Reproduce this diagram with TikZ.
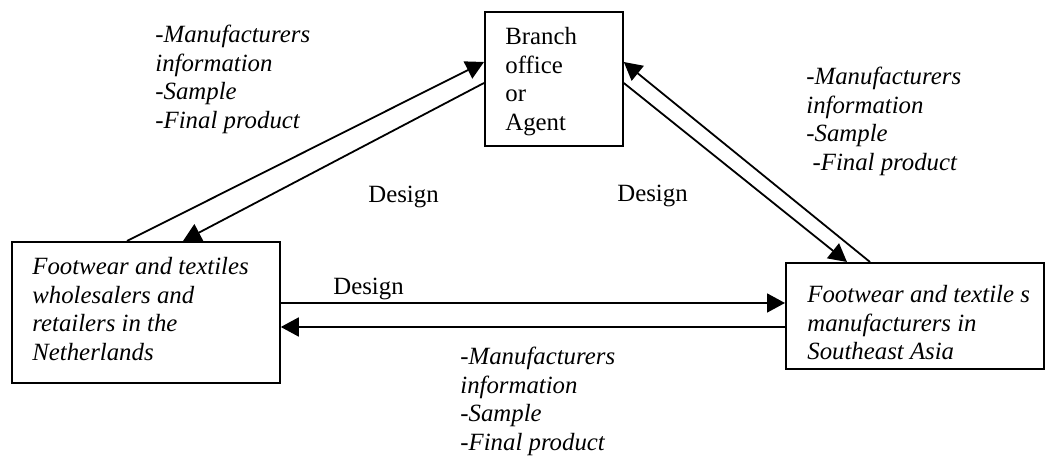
\documentclass[tikz,border=0pt]{standalone}
\usepackage{fontspec}
\setmainfont{Liberation Serif}
\usetikzlibrary{arrows.meta,calc}
\newcommand\stacklines[1]{\begin{tabular}[t]{@{}l@{}}#1\end{tabular}}

\begin{document}
\begin{tikzpicture}[x=0.5pt,y=-0.5pt,
  box/.style={draw, line width=0.9pt, rectangle, inner sep=0pt, anchor=north west},
  flow/.style={line width=0.9pt, -{Triangle[length=9pt,width=9.5pt]}},
  txt/.style={anchor=base west, inner sep=0pt, font=\fontsize{12.4pt}{14.2pt}\selectfont},
  lbl/.style={anchor=base west, inner sep=0pt, font=\fontsize{12.4pt}{14.2pt}\selectfont\itshape}]
\useasboundingbox (0,0) rectangle (1046,458);

% the three parties
\node[box, minimum width=69pt, minimum height=67pt] (b) at (484,11) {};
\node[box, minimum width=134pt, minimum height=70.5pt] (w) at (11,241) {};
\node[box, minimum width=129pt, minimum height=53pt] (m) at (785,262) {};

\node[txt] (bt) at ($(b.north west)+(21,34)$) {\stacklines{Branch\\office\\or\\Agent}};
\node[lbl] (wt) at ($(w.north west)+(21,34)$) {\stacklines{Footwear and textiles\\wholesalers and\\retailers in the\\Netherlands}};
\node[lbl] (mt) at ($(m.north west)+(22,41)$) {\stacklines{Footwear and textile s\\manufacturers in\\Southeast Asia}};

% flows between wholesalers and the branch office
\draw[flow] ($(w.north west)+(116,0)$) -- ($(b.north west)+(0,51)$);
\draw[flow] ($(b.north west)+(0,72)$) -- ($(w.north west)+(172,0)$);

% flows between manufacturers and the branch office
\draw[flow] ($(m.north west)+(85,0)$) -- ($(b.north east)+(0,51)$);
\draw[flow] ($(b.north east)+(0,72)$) -- ($(m.north west)+(62,0)$);

% direct flows between wholesalers and manufacturers
\draw[flow] ($(w.north east)+(0,62)$) -- ($(m.north west)+(0,41)$);
\draw[flow] ($(m.north west)+(0,65)$) -- ($(w.north east)+(0,86)$);

% flow labels
\node[lbl] (l1) at (155,43) {\stacklines{-Manufacturers\\information\\-Sample\\-Final product}};
\node[lbl] (l2) at (806,85) {\stacklines{-Manufacturers\\information\\-Sample\\\ -Final product}};
\node[lbl] (l3) at (460,365) {\stacklines{-Manufacturers\\information\\-Sample\\-Final product}};
\node[txt] (d1) at (368,203) {Design};
\node[txt] (d2) at (617,202) {Design};
\node[txt] (d3) at (333,295) {Design};
\end{tikzpicture}
\end{document}
